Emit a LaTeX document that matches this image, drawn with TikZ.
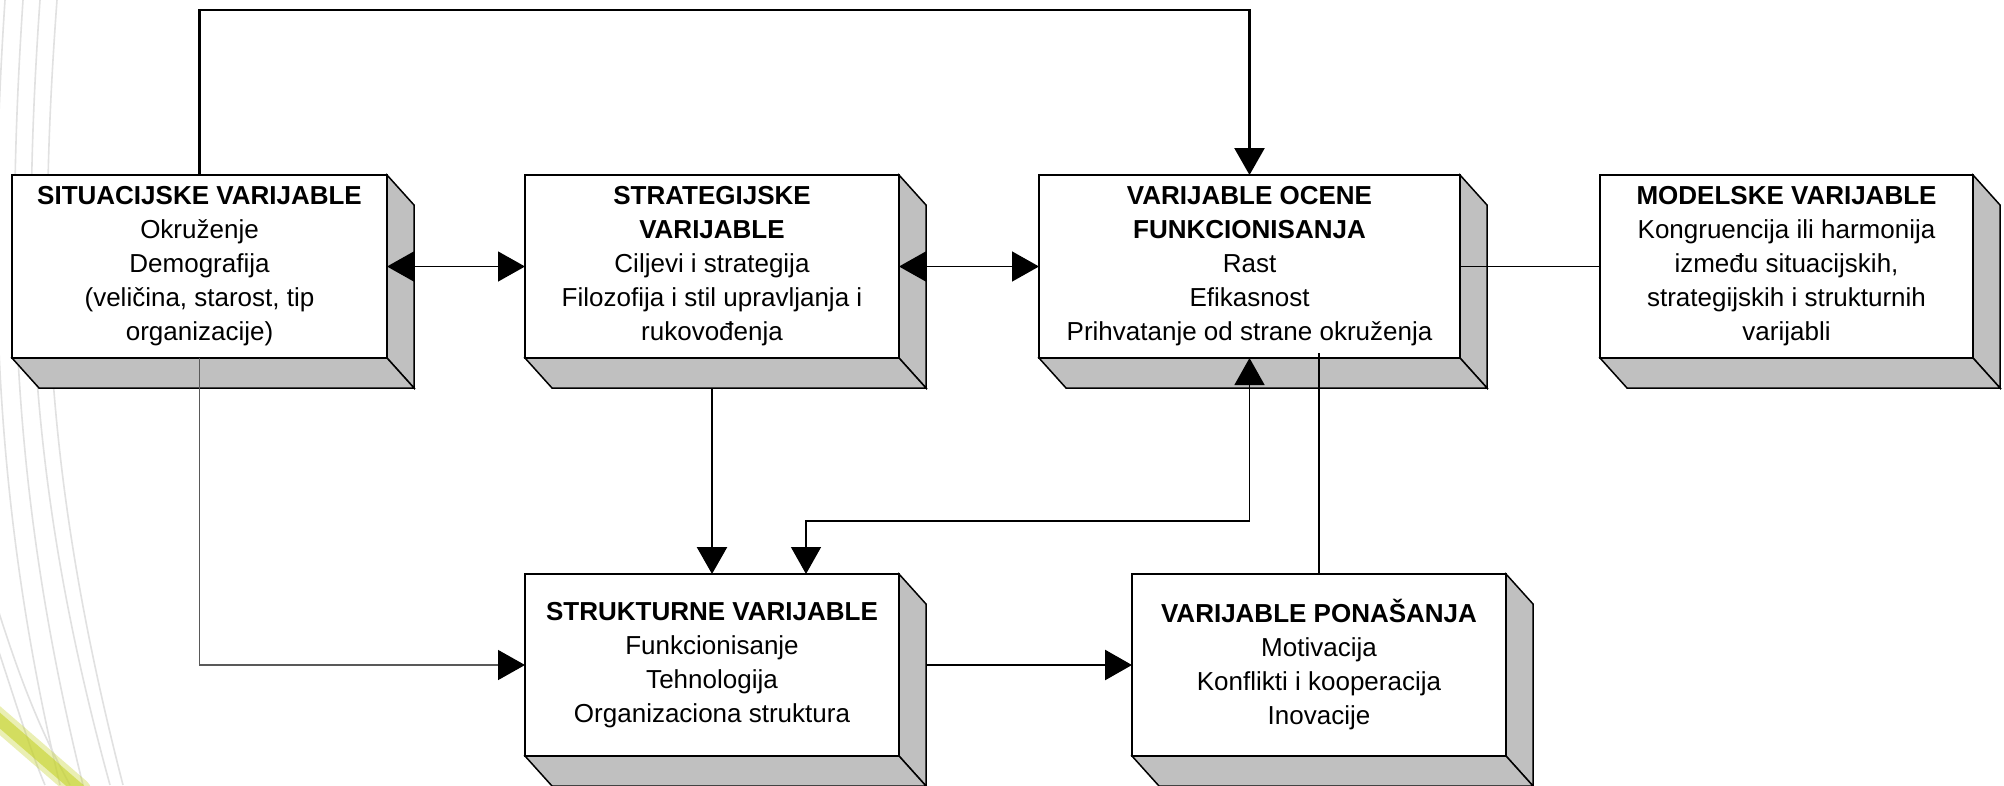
\documentclass[tikz,border=0pt]{standalone}
\usepackage{fontspec}
\setmainfont{Liberation Sans}
\usetikzlibrary{arrows.meta,calc}
\definecolor{sidegray}{RGB}{192,192,192}
\definecolor{streak}{RGB}{196,210,40}
\definecolor{arcgray}{RGB}{225,225,225}
\tikzset{
  front/.style={draw=black, line width=1.5pt, fill=white, inner sep=0pt, outer sep=0pt,
    align=center, font=\fontsize{26}{34}\selectfont},
  face/.style={draw=black, line width=1.5pt, fill=sidegray, line join=miter},
  thinline/.style={line width=1.4pt, draw=black},
  grayline/.style={line width=1.4pt, draw=black!65},
  thickline/.style={line width=2.6pt, draw=black},
  bgarc/.style={line width=1.6pt, draw=arcgray},
  >={Triangle[length=27pt,width=30pt,color=black]},
}
\newcommand\drawfaces[1]{%
  \draw[face] (#1.north east) -- ++(27,30) -- ($(#1.south east)+(27,30)$) -- (#1.south east) -- cycle;
  \draw[face] (#1.south west) -- ($(#1.south west)+(27,30)$) -- ($(#1.south east)+(27,30)$) -- (#1.south east) -- cycle;}
\begin{document}
\begin{tikzpicture}[x=1pt,y=-1pt]
\useasboundingbox (0,0) rectangle (2004,785);
\fill[white] (0,0) rectangle (2004,785);
% background decoration
\begin{scope}
\clip (0,0) rectangle (2004,785);
\draw[bgarc] (57,0) .. controls (38,260) and (42,470) .. (123,785);
\draw[bgarc] (40,0) .. controls (22,260) and (26,480) .. (110,785);
\draw[bgarc] (23,0) .. controls (6,260) and (10,490) .. (83,785);
\draw[bgarc] (5,0) .. controls (-12,260) and (-8,500) .. (60,785);
\draw[bgarc] (-5,600) .. controls (20,680) and (40,730) .. (70,785);
\draw[bgarc] (-5,640) .. controls (15,700) and (30,750) .. (45,785);
\draw[line width=22pt, draw=streak, opacity=0.35, line cap=round] (-10,712) -- (80,790);
\draw[line width=12pt, draw=streak, opacity=0.6, line cap=round] (-10,712) -- (80,790);
\end{scope}
% boxes
\node[front, minimum width=375pt, minimum height=183pt] (b1) at (199.5,266.5)
  {\textbf{SITUACIJSKE VARIJABLE}\\Okruženje\\Demografija\\(veličina, starost, tip\\organizacije)};
\node[front, minimum width=374pt, minimum height=183pt] (b2) at (712,266.5)
  {\textbf{STRATEGIJSKE}\\\textbf{VARIJABLE}\\Ciljevi i strategija\\Filozofija i stil upravljanja i\\rukovođenja};
\node[front, minimum width=421pt, minimum height=183pt] (b3) at (1249.5,266.5)
  {\textbf{VARIJABLE OCENE}\\\textbf{FUNKCIONISANJA}\\Rast\\Efikasnost\\Prihvatanje od strane okruženja};
\node[front, minimum width=373pt, minimum height=183pt] (b4) at (1786.5,266.5)
  {\textbf{MODELSKE VARIJABLE}\\Kongruencija ili harmonija\\između situacijskih,\\strategijskih i strukturnih\\varijabli};
\node[front, minimum width=374pt, minimum height=182pt] (b5) at (712,665)
  {\textbf{STRUKTURNE VARIJABLE}\\Funkcionisanje\\Tehnologija\\Organizaciona struktura};
\node[front, minimum width=374pt, minimum height=182pt] (b6) at (1319,665)
  {\textbf{VARIJABLE PONAŠANJA}\\Motivacija\\Konflikti i kooperacija\\Inovacije};
\foreach \b in {b1,b2,b3,b4,b5,b6} {\drawfaces{\b}}
% helper coordinates
\coordinate (b2d) at ($(b2.south)+(0,30)$);
\coordinate (b5e) at ($(b5.east)+(27,0)$);
\coordinate (b5in) at ($(b5.north)+(94,0)$);
\coordinate (kbend) at (806,521);
\coordinate (b6top) at ($(b6.north)+(0,-221)$);
% connectors
\draw[thickline,->] (b1.north) -- ++(0,-165) -| (b3.north);
\draw[thinline,<->] (b1.east) -- (b2.west);
\draw[thinline,<->] (b2.east) -- (b3.west);
\draw[thinline] (b3.east) -- (b4.west);
\draw[grayline,->] (b1.south) |- (b5.west);
\draw[thickline,->] (b2d) -- (b5.north);
\draw[thinline,<->] (b3.south) |- (kbend) -- (b5in);
\draw[thickline] (b6.north) -- (b6top);
\draw[thickline,->] (b5e) -- (b6.west);
\end{tikzpicture}
\end{document}
